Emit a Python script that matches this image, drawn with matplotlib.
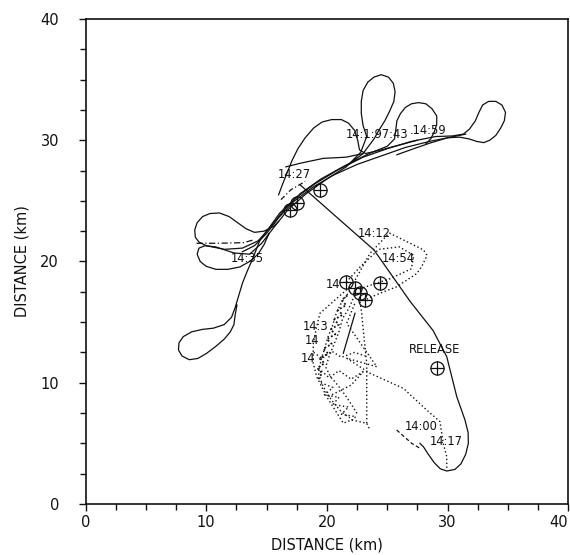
import matplotlib
matplotlib.use("Agg")
import matplotlib.pyplot as plt
from matplotlib.ticker import MultipleLocator

plt.rcParams['font.family'] = ['DejaVu Sans']

# ---------------- data (km) ----------------
# solid trajectories
t1_x = [12.55, 12.4, 12.3, 12.0, 11.5, 10.8, 10.0, 9.3, 8.6, 8.0, 7.7, 7.75, 8.1, 8.8, 9.7, 10.6,
        11.5, 12.1, 12.4, 12.7, 13.0, 13.4, 13.8, 14.46, 15.3, 16.1, 17.5, 19.0, 21.0, 23.0,
        25.0, 27.0, 29.0, 30.4, 31.3, 31.8, 32.3, 32.6, 32.9, 33.4, 34.0, 34.5, 34.8, 34.7,
        34.4, 34.0, 33.5, 33.0, 32.4, 31.8, 31.0, 30.0, 28.5, 27.2, 25.8]
t1_y = [16.4, 15.6, 14.8, 14.2, 13.6, 13.0, 12.4, 12.0, 11.9, 12.2, 12.7, 13.3, 13.8, 14.2, 14.4, 14.5,
        14.8, 15.4, 16.2, 17.2, 18.2, 19.2, 20.1, 21.77, 22.9, 24.0, 25.3, 26.4, 27.6, 28.6,
        29.3, 29.9, 30.3, 30.35, 30.5, 30.9, 31.6, 32.3, 32.9, 33.2, 33.2, 32.9, 32.3, 31.6,
        31.0, 30.4, 30.0, 29.8, 29.9, 30.1, 30.25, 30.2, 29.75, 29.3, 28.8]

t2_x = [16.0, 15.6, 14.8, 14.0, 13.3, 12.6, 11.9, 11.1, 10.3, 9.7, 9.25, 9.05, 9.1, 9.4, 10.0,
        11.5, 13.0, 14.3, 15.3, 16.4, 17.8, 19.5, 21.5, 23.5, 25.0, 25.6, 25.7, 25.8, 26.1,
        26.5, 27.0, 27.6, 28.2, 28.7, 29.1, 29.1, 28.9, 28.6, 28.2]
t2_y = [23.3, 22.9, 22.5, 22.4, 22.7, 23.2, 23.7, 24.0, 23.95, 23.7, 23.2, 22.6, 22.0, 21.6, 21.3,
        21.0, 21.1, 21.7, 22.8, 24.2, 25.6, 26.8, 27.9, 28.9, 29.5, 30.1, 30.8, 31.6, 32.2,
        32.7, 33.0, 33.1, 33.0, 32.6, 32.0, 31.3, 30.7, 30.1, 29.7]

t3_x = [15.2, 14.8, 14.3, 13.6, 12.8, 11.8, 10.8, 10.0, 9.5, 9.25, 9.4, 9.9, 10.8, 12.3, 13.6,
        14.6, 15.6, 16.8, 18.3, 20.0, 21.6, 22.8, 23.3, 23.0, 22.85, 22.85, 23.0, 23.4, 23.9,
        24.5, 25.1, 25.5, 25.65, 25.55, 25.2, 24.8, 24.3, 23.9, 23.0, 21.8]
t3_y = [22.3, 21.4, 20.6, 20.0, 19.55, 19.35, 19.35, 19.6, 20.0, 20.6, 21.1, 21.3, 21.2, 20.7, 20.6,
        21.5, 22.8, 24.3, 25.6, 26.8, 27.8, 29.0, 30.3, 31.2, 32.2, 33.2, 34.1, 34.8, 35.2,
        35.4, 35.2, 34.7, 34.0, 33.2, 32.4, 31.6, 30.8, 30.1, 28.9, 28.0]

t4_x = [16.0, 16.3, 16.7, 17.1, 17.6, 18.2, 18.9, 19.6, 20.4, 21.2, 21.8, 22.3, 22.55, 22.7,
        23.2, 24.5, 26.0, 27.5]
t4_y = [25.5, 26.3, 27.3, 28.3, 29.3, 30.2, 31.0, 31.5, 31.7, 31.7, 31.4, 30.8, 30.0, 29.2,
        28.9, 29.2, 29.6, 30.0]

t5_x = [13.0, 14.0, 15.0, 16.0, 17.2, 18.8, 20.5, 22.5, 24.5, 26.5, 28.5, 30.5, 31.5]
t5_y = [20.8, 21.3, 22.3, 23.6, 24.9, 26.1, 27.1, 28.0, 28.7, 29.4, 29.9, 30.3, 30.5]

t6_x = [16.6, 17.8, 19.7, 21.6, 23.0]
t6_y = [27.8, 28.1, 28.5, 28.6, 28.9]

# release trajectory (solid)
rel_x = [17.8, 21.1, 23.9, 26.9, 28.8, 29.93, 30.76, 31.44, 31.7, 31.72, 31.5, 31.1, 30.6,
         29.93, 29.4, 28.9, 28.4, 27.99, 27.71]
rel_y = [26.3, 23.4, 20.95, 16.7, 14.3, 12.15, 8.85, 6.93, 5.9, 5.0, 4.1, 3.3, 2.85,
         2.72, 2.9, 3.4, 4.1, 4.73, 5.0]

inner_x = [22.33, 21.36]
inner_y = [15.73, 12.43]

dash_x = [9.2, 11.0, 13.1, 14.0]
dash_y = [21.5, 21.5, 21.55, 21.8]

dash2_x = [16.2, 17.0, 18.2]
dash2_y = [25.1, 25.9, 26.6]

tail_x = [25.78, 27.03, 27.7]
tail_y = [6.1, 5.0, 4.6]

# dotted trajectories
d1_x = [22.19, 23.57, 25.09, 25.2, 26.9, 28.0, 28.3, 27.85, 27.44, 25.8, 24.4, 23.16]
d1_y = [18.2, 20.67, 22.27, 22.33, 21.5, 20.95, 20.5, 19.57, 19.0, 17.92, 17.38, 16.83]

d2_x = [21.6, 22.8, 24.3, 26.0, 27.2, 27.0, 25.3, 23.5, 22.2]
d2_y = [18.3, 19.6, 21.0, 21.2, 20.5, 19.4, 18.6, 18.0, 17.6]

d3_x = [21.9, 19.43, 19.15, 18.87, 18.87, 19.15, 19.98, 21.36, 22.05, 23.3, 23.57]
d3_y = [17.9, 15.73, 14.62, 13.25, 11.6, 10.5, 8.85, 6.66, 6.93, 6.66, 6.1]

d4_x = [22.7, 22.88, 23.1, 23.3, 23.3]
d4_y = [17.0, 15.73, 13.5, 11.6, 6.66]

d5_x = [22.3, 21.64, 24.13, 21.64, 23.57, 26.33, 28.27, 29.37, 29.64, 29.93, 29.93]
d5_y = [16.5, 14.9, 11.32, 12.02, 10.78, 9.54, 7.75, 6.79, 5.0, 3.9, 2.8]

z1_x = [21.9, 21.2, 20.8, 20.5, 20.1, 19.8, 19.5, 19.3, 19.6, 20.0, 20.6, 21.2, 21.9]
z1_y = [17.6, 16.6, 15.8, 14.8, 13.8, 12.8, 11.8, 10.8, 9.9, 9.1, 8.3, 7.6, 7.1]

z2_x = [22.3, 21.8, 21.3, 21.0, 20.6, 20.2, 19.9, 20.3, 20.9, 21.5, 22.1, 22.6]
z2_y = [17.2, 16.1, 15.3, 14.2, 13.2, 12.2, 11.3, 10.5, 9.8, 9.0, 8.1, 7.3]

z3_x = [19.3, 20.2, 21.0, 22.0, 23.0, 22.0, 21.0, 20.0]
z3_y = [11.2, 10.4, 11.0, 10.3, 10.9, 9.8, 9.3, 8.8]

z4_x = [18.9, 19.6, 20.4, 21.2, 22.3, 23.2]
z4_y = [12.5, 12.0, 12.6, 12.1, 12.5, 12.2]

z5_x = [21.7, 21.2, 21.6, 20.9, 21.3, 20.6, 21.0, 20.3, 20.7, 20.0, 20.4, 19.7, 20.1, 19.4,
        19.8, 19.2, 19.6, 19.3]
z5_y = [17.2, 16.8, 16.4, 16.0, 15.6, 15.2, 14.8, 14.4, 14.0, 13.6, 13.2, 12.8, 12.4, 12.0,
        11.6, 11.2, 10.8, 10.3]

z6_x = [19.5, 20.5, 19.8, 21.0, 20.5, 21.8, 21.2, 22.4, 21.9]
z6_y = [10.0, 9.6, 9.0, 8.8, 8.2, 8.0, 7.4, 7.2, 6.8]

# circled-cross markers
circ_x = [29.1, 19.43, 16.94, 17.5, 21.58, 22.33, 22.74, 23.16, 24.4]
circ_y = [11.19, 25.9, 24.25, 24.8, 18.34, 17.79, 17.43, 16.83, 18.2]

# time labels
lab_text = ["14:27", "14:1:97:43", ".14:59", "14:35", "14:12", "14:54", "14",
            "14:3", "14", "14", "14:00", "14:17", "RELEASE"]
lab_x = [17.3, 24.2, 28.4, 13.4, 23.9, 25.9, 20.5, 19.1, 18.75, 18.45, 27.8, 29.9, 28.95]
lab_y = [27.13, 30.43, 30.76, 20.25, 22.33, 20.26, 18.06, 14.62, 13.45, 12.0, 6.37, 5.14, 12.7]

xticks = [0, 10, 20, 30, 40]
yticks = [0, 10, 20, 30, 40]

# ---------------- figure ----------------
fig = plt.figure(figsize=(5.7, 5.55), dpi=100)
ax = fig.add_axes([0.15, 0.0919, 0.847, 0.874])

solid_kw = dict(color='#111111', lw=0.9, solid_joinstyle='round')
for xs, ys in [(t1_x, t1_y), (t2_x, t2_y), (t3_x, t3_y), (t4_x, t4_y), (t5_x, t5_y),
               (t6_x, t6_y), (rel_x, rel_y), (inner_x, inner_y)]:
    ax.plot(xs, ys, **solid_kw)

ax.plot(dash_x, dash_y, color='#111111', lw=0.9, linestyle=(0, (5, 2, 1, 2)))
ax.plot(dash2_x, dash2_y, color='#111111', lw=0.9, linestyle=(0, (4, 2, 1, 2)))
ax.plot(tail_x, tail_y, color='#111111', lw=0.9, linestyle=(0, (3, 2)))

dot_kw = dict(color='#111111', lw=1.0, linestyle=(0, (1, 1.8)))
for xs, ys in [(d1_x, d1_y), (d2_x, d2_y), (d3_x, d3_y), (d4_x, d4_y), (d5_x, d5_y),
               (z1_x, z1_y), (z2_x, z2_y), (z3_x, z3_y), (z4_x, z4_y), (z6_x, z6_y)]:
    ax.plot(xs, ys, **dot_kw)
ax.plot(z5_x, z5_y, color='#111111', lw=1.3, linestyle=(0, (1, 1.2)))

ax.plot(circ_x, circ_y, 'o', mfc='none', mec='#111111', ms=9.5, mew=0.9)
ax.plot(circ_x, circ_y, '+', color='#111111', ms=9.5, mew=0.9)

for t, x, y in zip(lab_text, lab_x, lab_y):
    ax.text(x, y, t, ha='center', va='center', fontsize=8.3, color='#111111')

ax.set_xlim(0, 40)
ax.set_ylim(0, 40)
ax.set_xticks(xticks)
ax.set_yticks(yticks)
ax.xaxis.set_minor_locator(MultipleLocator(2.5))
ax.yaxis.set_minor_locator(MultipleLocator(2.5))
ax.tick_params(axis='both', which='both', direction='out', top=False, right=False,
               color='#111111', width=1.0, labelsize=10.5, labelcolor='#111111')
ax.tick_params(axis='both', which='major', length=5)
ax.tick_params(axis='both', which='minor', length=4)
ax.tick_params(axis='y', which='major', pad=14)
ax.tick_params(axis='x', which='major', pad=3)
for s in ax.spines.values():
    s.set_linewidth(1.2)
    s.set_color('#111111')
ax.get_xticklabels()[-1].set_ha('right')

ax.set_xlabel('DISTANCE (km)', fontsize=10.5, labelpad=5.5, color='#111111')
ax.set_ylabel('DISTANCE (km)', fontsize=10.5, labelpad=8, color='#111111')

fig.savefig('out.png', dpi=100)
